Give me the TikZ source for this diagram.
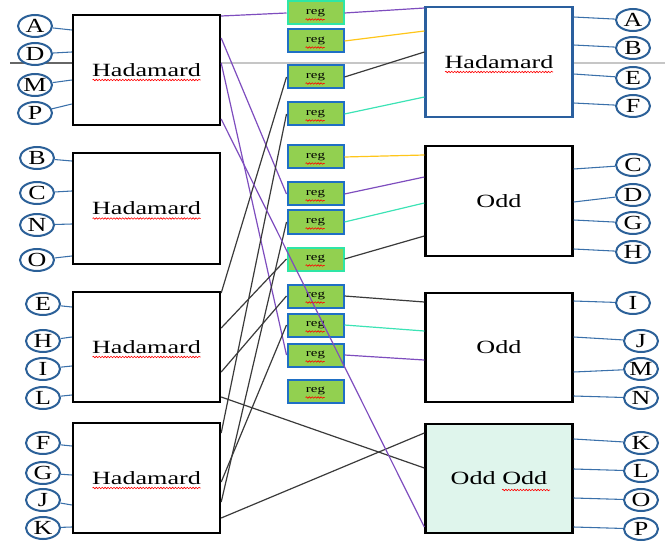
\documentclass[tikz,border=0pt]{standalone}
\usepackage{graphicx}
\usepackage{fontspec}
\setmainfont{Liberation Serif}
\usetikzlibrary{shapes.geometric,calc,decorations.pathmorphing}
\definecolor{boxblue}{HTML}{2A5F9E}
\definecolor{regblue}{HTML}{1F6FC5}
\definecolor{reggreen}{HTML}{92D050}
\definecolor{regteal}{HTML}{2EE6A6}
\definecolor{cpurple}{HTML}{7E4DBE}
\definecolor{cyellow}{HTML}{FFC61A}
\definecolor{cteal}{HTML}{3CE3B5}
\definecolor{cdark}{HTML}{3A3A3A}
\definecolor{circblue}{HTML}{2B6098}
\definecolor{lineblue}{HTML}{3A70AA}
\definecolor{mint}{HTML}{DFF5EC}
\newcommand{\btxt}[1]{\scalebox{1.4}[1]{\fontsize{14}{16}\selectfont #1}}
\newcommand{\ctxt}[1]{\scalebox{1.3}[1]{\fontsize{15}{17}\selectfont #1}}
\newcommand{\rtxt}[1]{\scalebox{1.4}[1]{\fontsize{8}{9}\selectfont #1}}
\tikzset{
  hbox/.style={draw=black, line width=1.8pt, fill=white, minimum width=110.25pt, minimum height=82.5pt, inner sep=0pt},
  rhbox/.style={hbox, draw=boxblue, line width=1.6pt},
  regbox/.style={draw=regblue, line width=1.5pt, fill=reggreen, minimum width=42pt, minimum height=17.25pt, inner sep=0pt},
  regboxt/.style={regbox, draw=regteal},
  lcirc/.style={ellipse, draw=circblue, line width=1.5pt, fill=white, minimum width=25.5pt, minimum height=16.5pt, inner sep=0pt},
  pinline/.style={draw=lineblue, line width=0.8pt},
  wpurple/.style={draw=cpurple, line width=0.9pt},
  wyellow/.style={draw=cyellow, line width=0.9pt},
  wteal/.style={draw=cteal, line width=0.9pt},
  wdark/.style={draw=cdark, line width=0.9pt},
  squig/.style={draw=red, line width=0.45pt, decorate, decoration={snake, amplitude=0.55pt, segment length=2.2pt}}
}
\begin{document}
\begin{tikzpicture}[x=0.75pt, y=-0.75pt]
\useasboundingbox (0,0) rectangle (665,542);
% stray gray line
\coordinate (g0) at (10,63);
\coordinate (g1) at (665,63);
\draw[draw=gray!45, line width=1.5pt] (g0) -- (g1);
\draw[draw=gray!80!black, line width=1.2pt] (g0) -- (73,63);

% left boxes
\node[hbox] (L1) at (146.5,70) {\btxt{Hadamard}};
\node[hbox, minimum height=83.25pt] (L2) at (146.5,208.5) {\btxt{Hadamard}};
\node[hbox] (L3) at (146.5,347) {\btxt{Hadamard}};
\node[hbox] (L4) at (146.5,478) {\btxt{Hadamard}};
% right boxes
\node[rhbox] (R1) at (499,62) {\btxt{Hadamard}};
\node[hbox] (R2) at (499,201) {\btxt{Odd}};
\node[hbox, minimum height=81.75pt] (R3) at (499,347.5) {\btxt{Odd}};
\node[hbox, fill=mint, minimum height=81.75pt] (R4) at (499,478.5) {\btxt{Odd Odd}};

% reg boxes
\node[regboxt] (r1) at (315.5,13) {\rtxt{reg}};
\node[regbox] (r2) at (315.5,41) {\rtxt{reg}};
\node[regbox] (r3) at (315.5,77) {\rtxt{reg}};
\node[regbox] (r4) at (315.5,114) {\rtxt{reg}};
\node[regbox] (r5) at (315.5,157) {\rtxt{reg}};
\node[regbox] (r6) at (315.5,194) {\rtxt{reg}};
\node[regbox] (r7) at (315.5,222) {\rtxt{reg}};
\node[regboxt] (r8) at (315.5,259) {\rtxt{reg}};
\node[regbox] (r9) at (315.5,296) {\rtxt{reg}};
\node[regbox] (r10) at (315.5,325) {\rtxt{reg}};
\node[regbox] (r11) at (315.5,355) {\rtxt{reg}};
\node[regbox] (r12) at (315.5,391) {\rtxt{reg}};

% reg inputs
\draw[wpurple] (L1.east |- 0,16) -- (r1.west);
\draw[wpurple] (L1.east |- 0,38) -- (r6.west);
\draw[wpurple] (L1.east |- 0,63) -- (r11.west);
\draw[wdark] (L3.east |- 0,293) -- (r3.west);
\draw[wdark] (L3.east |- 0,328) -- (r8.west);
\draw[wdark] (L3.east |- 0,372) -- (r9.west);
\draw[wdark] (L4.east |- 0,433) -- (r4.west);
\draw[wdark] (L4.east |- 0,502) -- (r7.west);
\draw[wdark] (L4.east |- 0,482) -- (r10.west);
\draw[wdark] (L3.east |- 0,397) -- (R4.west |- 0,468);
\draw[wdark] (L4.east |- 0,518) -- (R4.west |- 0,433);

% reg outputs
\draw[wpurple] (r1.east) -- (R1.west |- 0,8);
\draw[wyellow] (r2.east) -- (R1.west |- 0,31);
\draw[wdark] (r3.east) -- (R1.west |- 0,52);
\draw[wteal] (r4.east) -- (R1.west |- 0,97);
\draw[wyellow] (r5.east) -- (R2.west |- 0,155);
\draw[wpurple] (r6.east) -- (R2.west |- 0,177);
\draw[wteal] (r7.east) -- (R2.west |- 0,203);
\draw[wdark] (r8.east) -- (R2.west |- 0,236);
\draw[wdark] (r9.east) -- (R3.west |- 0,302);
\draw[wteal] (r10.east) -- (R3.west |- 0,331);
\draw[wpurple] (r11.east) -- (R3.west |- 0,360);
% long purple over regs
\draw[wpurple] (L1.east |- 0,119) -- (R4.west |- 0,527);

% left circles
\node[lcirc] (lA) at (35,26) {\ctxt{A}};
\node[lcirc] (lD) at (35,54) {\ctxt{D}};
\node[lcirc] (lM) at (35,85) {\ctxt{M}};
\node[lcirc] (lP) at (35,113) {\ctxt{P}};
\node[lcirc] (lB) at (37,158) {\ctxt{B}};
\node[lcirc] (lC) at (37,193) {\ctxt{C}};
\node[lcirc] (lN) at (37,225) {\ctxt{N}};
\node[lcirc] (lO) at (37,260) {\ctxt{O}};
\node[lcirc] (lE) at (43,304) {\ctxt{E}};
\node[lcirc] (lH) at (43,341) {\ctxt{H}};
\node[lcirc] (lI) at (43,369) {\ctxt{I}};
\node[lcirc] (lL) at (43,398) {\ctxt{L}};
\node[lcirc] (lF) at (43,443) {\ctxt{F}};
\node[lcirc] (lG) at (43,473) {\ctxt{G}};
\node[lcirc] (lJ) at (43,500) {\ctxt{J}};
\node[lcirc] (lK) at (43,528) {\ctxt{K}};
\draw[pinline] (lA) -- (L1.west |- 0,30);
\draw[pinline] (lD) -- (L1.west |- 0,52);
\draw[pinline] (lM) -- (L1.west |- 0,80);
\draw[pinline] (lP) -- (L1.west |- 0,104);
\draw[pinline] (lB) -- (L2.west |- 0,161);
\draw[pinline] (lC) -- (L2.west |- 0,191);
\draw[pinline] (lN) -- (L2.west |- 0,224);
\draw[pinline] (lO) -- (L2.west |- 0,256);
\draw[pinline] (lE) -- (L3.west |- 0,307);
\draw[pinline] (lH) -- (L3.west |- 0,337);
\draw[pinline] (lI) -- (L3.west |- 0,366);
\draw[pinline] (lL) -- (L3.west |- 0,395);
\draw[pinline] (lF) -- (L4.west |- 0,446);
\draw[pinline] (lG) -- (L4.west |- 0,475);
\draw[pinline] (lJ) -- (L4.west |- 0,505);
\draw[pinline] (lK) -- (L4.west |- 0,527);

% right circles
\node[lcirc] (rA) at (633,20) {\ctxt{A}};
\node[lcirc] (rB) at (633,48) {\ctxt{B}};
\node[lcirc] (rE) at (633,78) {\ctxt{E}};
\node[lcirc] (rF) at (633,106) {\ctxt{F}};
\node[lcirc] (rC) at (633,165) {\ctxt{C}};
\node[lcirc] (rD) at (633,195) {\ctxt{D}};
\node[lcirc] (rG) at (633,223) {\ctxt{G}};
\node[lcirc] (rH) at (633,252) {\ctxt{H}};
\node[lcirc] (rI) at (633,303) {\ctxt{I}};
\node[lcirc] (rJ) at (641,341) {\ctxt{J}};
\node[lcirc] (rM) at (641,369) {\ctxt{M}};
\node[lcirc] (rN) at (641,398) {\ctxt{N}};
\node[lcirc] (rK) at (641,443) {\ctxt{K}};
\node[lcirc] (rL) at (641,471) {\ctxt{L}};
\node[lcirc] (rO) at (641,500) {\ctxt{O}};
\node[lcirc] (rP) at (641,529) {\ctxt{P}};
\draw[pinline] (R1.east |- 0,17) -- (rA);
\draw[pinline] (R1.east |- 0,45) -- (rB);
\draw[pinline] (R1.east |- 0,74) -- (rE);
\draw[pinline] (R1.east |- 0,103) -- (rF);
\draw[pinline] (R2.east |- 0,169) -- (rC);
\draw[pinline] (R2.east |- 0,202) -- (rD);
\draw[pinline] (R2.east |- 0,220) -- (rG);
\draw[pinline] (R2.east |- 0,249) -- (rH);
\draw[pinline] (R3.east |- 0,301) -- (rI);
\draw[pinline] (R3.east |- 0,337) -- (rJ);
\draw[pinline] (R3.east |- 0,372) -- (rM);
\draw[pinline] (R3.east |- 0,396) -- (rN);
\draw[pinline] (R4.east |- 0,439) -- (rK);
\draw[pinline] (R4.east |- 0,469) -- (rL);
\draw[pinline] (R4.east |- 0,498) -- (rO);
\draw[pinline] (R4.east |- 0,527) -- (rP);

% spell-check squiggles
\foreach \b in {L1,L2,L3,L4,R1} {
  \draw[squig] ($(\b.center)+(-54,10)$) -- ++(108,0);
}
\draw[squig] ($(R4.center)+(3,11.5)$) -- ++(48,0);
\foreach \r in {r1,r2,r3,r4,r5,r6,r7,r8,r9,r10,r11,r12} {
  \draw[squig] ($(\r.center)+(-10,6.5)$) -- ++(19,0);
}
\end{tikzpicture}
\end{document}
